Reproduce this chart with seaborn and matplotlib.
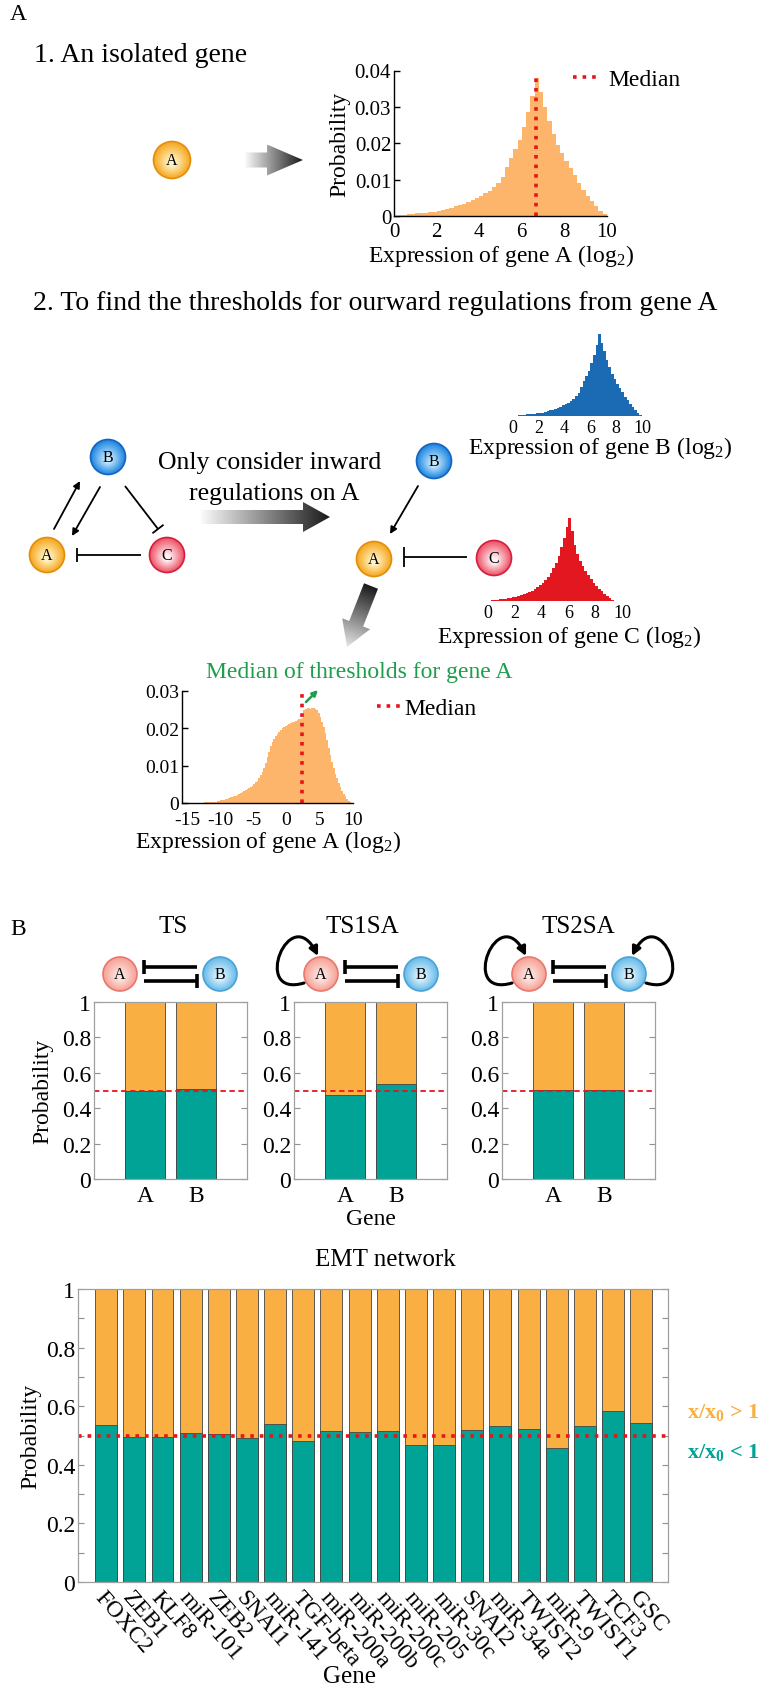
import numpy as np
import pandas as pd
import matplotlib
matplotlib.use("Agg")
import matplotlib.pyplot as plt
import seaborn as sns
from matplotlib.patches import Circle, Polygon, FancyArrowPatch
from matplotlib.path import Path
from matplotlib.colors import LinearSegmentedColormap, to_rgb

sns.set_theme(style="white")
plt.rcParams["font.family"] = ["Liberation Serif", "DejaVu Serif"]
plt.rcParams["mathtext.fontset"] = "custom"
plt.rcParams["mathtext.rm"] = "Liberation Serif"
plt.rcParams["mathtext.it"] = "Liberation Serif:italic"
plt.rcParams["mathtext.bf"] = "Liberation Serif:bold"
plt.rcParams["axes.unicode_minus"] = False
for k in ["text.color", "axes.labelcolor", "xtick.color", "ytick.color"]:
    plt.rcParams[k] = "black"

W, H = 762, 1690

# ---------------- data ----------------
# isolated-gene expression histograms, 0.2 wide bins on 0..10
iso_edges = np.linspace(0, 10, 51)
iso_centers = (iso_edges[:-1] + iso_edges[1:]) / 2
prob_gene_a = [0.0001, 0.0002, 0.0003, 0.0005, 0.0006, 0.0007, 0.0008, 0.0009, 0.0011, 0.0012,
               0.0014, 0.0016, 0.0019, 0.0023, 0.0027, 0.0030, 0.0034, 0.0039, 0.0044, 0.0050,
               0.0056, 0.0062, 0.0070, 0.0080, 0.0092, 0.0106, 0.0135, 0.0160, 0.0185, 0.0210,
               0.0245, 0.0285, 0.0330, 0.0380, 0.0340, 0.0300, 0.0260, 0.0225, 0.0195, 0.0172,
               0.0150, 0.0132, 0.0112, 0.0090, 0.0072, 0.0055, 0.0040, 0.0027, 0.0015, 0.0005]
# gene B looks the same as the isolated gene A
prob_gene_b = [0.0001, 0.0002, 0.0003, 0.0005, 0.0006, 0.0007, 0.0008, 0.0009, 0.0011, 0.0012,
               0.0014, 0.0016, 0.0019, 0.0023, 0.0027, 0.0030, 0.0034, 0.0039, 0.0044, 0.0050,
               0.0056, 0.0062, 0.0070, 0.0080, 0.0092, 0.0106, 0.0135, 0.0160, 0.0185, 0.0210,
               0.0245, 0.0285, 0.0330, 0.0380, 0.0340, 0.0300, 0.0260, 0.0225, 0.0195, 0.0172,
               0.0150, 0.0132, 0.0112, 0.0090, 0.0072, 0.0055, 0.0040, 0.0027, 0.0015, 0.0005]
prob_gene_c = [0.0002, 0.0003, 0.0004, 0.0005, 0.0007, 0.0008, 0.0010, 0.0012, 0.0014, 0.0016,
               0.0019, 0.0022, 0.0026, 0.0030, 0.0035, 0.0040, 0.0046, 0.0053, 0.0061, 0.0070,
               0.0082, 0.0093, 0.0108, 0.0125, 0.0145, 0.0170, 0.0200, 0.0240, 0.0280, 0.0330,
               0.0370, 0.0310, 0.0250, 0.0210, 0.0180, 0.0155, 0.0135, 0.0115, 0.0098, 0.0082,
               0.0068, 0.0055, 0.0043, 0.0032, 0.0022, 0.0013, 0.0006, 0.0002, 0.0000, 0.0000]
median_gene_a = 6.65

# thresholds of gene A, 0.25 wide bins on -15..10
thr_edges = np.linspace(-15, 10, 101)
thr_centers = (thr_edges[:-1] + thr_edges[1:]) / 2
prob_threshold_a = [0.0001, 0.0001, 0.0001, 0.0001, 0.0001, 0.0001, 0.0001, 0.0001,
                    0.0001, 0.0001, 0.0002, 0.0002, 0.0002, 0.0002, 0.0003, 0.0003,
                    0.0004, 0.0004, 0.0005, 0.0006, 0.0007, 0.0008, 0.0009, 0.0010,
                    0.0012, 0.0013, 0.0015, 0.0016, 0.0018, 0.0020, 0.0022, 0.0024,
                    0.0027, 0.0029, 0.0031, 0.0034, 0.0037, 0.0040, 0.0043, 0.0046,
                    0.0050, 0.0055, 0.0060, 0.0066, 0.0074, 0.0084, 0.0095, 0.0108,
                    0.0122, 0.0137, 0.0152, 0.0163, 0.0172, 0.0180, 0.0186, 0.0191,
                    0.0196, 0.0200, 0.0204, 0.0207, 0.0210, 0.0212, 0.0214, 0.0216,
                    0.0218, 0.0220, 0.0222, 0.0224, 0.0226, 0.0228, 0.0250, 0.0252,
                    0.0254, 0.0255, 0.0253, 0.0255, 0.0254, 0.0252, 0.0248, 0.0240,
                    0.0230, 0.0218, 0.0204, 0.0188, 0.0168, 0.0148, 0.0128, 0.0110,
                    0.0094, 0.0079, 0.0066, 0.0054, 0.0043, 0.0033, 0.0025, 0.0018,
                    0.0011, 0.0006, 0.0002, 0.0000]
median_threshold_a = 2.3

# panel B: probability of x/x0 < 1 (teal) and > 1 (orange)
motif_names = ["TS", "TS1SA", "TS2SA"]
motif_genes = ["A", "B"]
ts_low = [0.496, 0.509]
ts1sa_low = [0.475, 0.538]
ts2sa_low = [0.504, 0.504]

emt_genes = ["FOXC2", "ZEB1", "KLF8", "miR-101", "ZEB2", "SNAI1", "miR-141", "TGF-beta",
             "miR-200a", "miR-200b", "miR-200c", "miR-205", "miR-30c", "SNAI2", "miR-34a",
             "TWIST2", "miR-9", "TWIST1", "TCF3", "GSC"]
emt_low = [0.536, 0.495, 0.495, 0.510, 0.505, 0.490, 0.540, 0.482, 0.514, 0.512,
           0.517, 0.466, 0.467, 0.520, 0.532, 0.523, 0.458, 0.532, 0.585, 0.542]

HIST_ORANGE = "#FDB56C"
BAR_ORANGE = "#F9AF41"
BAR_TEAL = "#00A395"
RED = "#E8141C"
GREEN = "#1E9E4C"

fig = plt.figure(figsize=(W / 100, H / 100), dpi=100)


def px_axes(x0, y0, x1, y1):
    return fig.add_axes([x0 / W, 1 - y1 / H, (x1 - x0) / W, (y1 - y0) / H])


def hist_style(ax, fs, xpad=4):
    for s in ["top", "right"]:
        ax.spines[s].set_visible(False)
    for s in ["left", "bottom"]:
        ax.spines[s].set_color("black")
        ax.spines[s].set_linewidth(1.0)
    ax.tick_params(axis="y", direction="in", length=4, width=1, labelsize=fs, pad=2, left=True)
    ax.tick_params(axis="x", length=0, labelsize=fs, pad=xpad)


def draw_hist(ax, centers, probs, width, lo, hi, color):
    df = pd.DataFrame({"expr": centers, "prob": probs})
    sns.histplot(data=df, x="expr", weights="prob", binwidth=width, binrange=(lo, hi),
                 color=color, alpha=1, linewidth=0, ax=ax)


# ---- top histogram: isolated gene A ----
ax = px_axes(394, 71.5, 607, 217)
draw_hist(ax, iso_centers, prob_gene_a, 0.2, 0, 10, HIST_ORANGE)
ax.plot([median_gene_a, median_gene_a], [0, 0.0385], ls=":", lw=2.6, color=RED, label="Median")
ax.set_xlim(0, 10)
ax.set_ylim(0, 0.04)
ax.set_xticks(range(0, 11, 2))
ax.set_yticks([0, 0.01, 0.02, 0.03, 0.04], ["0", "0.01", "0.02", "0.03", "0.04"])
ax.set_xlabel(r"Expression of gene A (log$_2$)", fontsize=17, labelpad=1)
ax.set_ylabel("Probability", fontsize=17, labelpad=3)
hist_style(ax, 15)
ax.legend(loc="center left", bbox_to_anchor=(573 / W, 1 - 80 / H), bbox_transform=fig.transFigure,
          frameon=False, fontsize=17, handlelength=1.0, handletextpad=0.5, borderpad=0, borderaxespad=0)

# ---- gene B and gene C histograms ----
for (x0, y0, x1, y1), probs, col in [((513, 335, 642, 417), prob_gene_b, "#1B6BB4"),
                                     ((488, 519, 622, 602), prob_gene_c, "#E3171F")]:
    ax = px_axes(x0, y0, x1, y1)
    draw_hist(ax, iso_centers, probs, 0.2, 0, 10, col)
    ax.set_xlim(0, 10)
    ax.set_ylim(0, max(probs))
    ax.set_xticks(range(0, 11, 2))
    ax.set_yticks([])
    ax.set_xlabel("")
    ax.set_ylabel("")
    for s in ax.spines.values():
        s.set_visible(False)
    ax.tick_params(axis="x", length=0, labelsize=13, pad=2)

# ---- threshold histogram ----
ax = px_axes(182, 692, 353, 804)
draw_hist(ax, thr_centers, prob_threshold_a, 0.25, -15, 10, HIST_ORANGE)
ax.plot([median_threshold_a, median_threshold_a], [0, 0.03], ls=":", lw=2.6, color=RED, label="Median")
ax.set_xlim(-15.75, 10)
ax.set_ylim(0, 0.03)
ax.set_xticks([-15, -10, -5, 0, 5, 10], ["-15", "-10", "-5", "0", "5", "10"])
ax.set_yticks([0, 0.01, 0.02, 0.03], ["0", "0.01", "0.02", "0.03"])
ax.set_xlabel(r"Expression of gene A (log$_2$)", fontsize=17, labelpad=0)
ax.set_ylabel("")
hist_style(ax, 14, xpad=6)
ax.legend(loc="center left", bbox_to_anchor=(377 / W, 1 - 709 / H), bbox_transform=fig.transFigure,
          frameon=False, fontsize=17, handlelength=1.0, handletextpad=0.15, borderpad=0, borderaxespad=0)


def bar_style(ax, fs):
    for s in ax.spines.values():
        s.set_visible(True)
        s.set_color("#A0A0A0")
        s.set_linewidth(0.9)
    ax.set_ylim(0, 1)
    ax.set_yticks(np.arange(0, 1.01, 0.2), ["0", "0.2", "0.4", "0.6", "0.8", "1"])
    ax.tick_params(axis="y", which="both", direction="in", length=4, width=0.8, color="#909090",
                   left=True, right=True, labelsize=fs, pad=2)
    ax.tick_params(axis="x", length=0, labelsize=fs)
    ax.set_xlabel("")
    ax.set_ylabel("")


# ---- panel B: motifs ----
motif_low = [ts_low, ts1sa_low, ts2sa_low]
motif_x = [(94, 247), (294, 447), (502, 655)]
for i, ((x0, x1), name, low) in enumerate(zip(motif_x, motif_names, motif_low)):
    ax = px_axes(x0, 1003, x1, 1180)
    high = [1 - v for v in low]
    sns.barplot(x=motif_genes, y=list(np.add(low, high)), color=BAR_ORANGE, saturation=1, width=0.8,
                errorbar=None, edgecolor="#444444", linewidth=0.6, ax=ax)
    sns.barplot(x=motif_genes, y=low, color=BAR_TEAL, saturation=1, width=0.8,
                errorbar=None, edgecolor="#444444", linewidth=0.6, ax=ax)
    ax.axhline(0.5, color=RED, ls="--", lw=1.3, dashes=(3, 2))
    bar_style(ax, 17)
    ax.set_xlim(-1, 2)
    ax.tick_params(axis="x", pad=4)
    if i == 0:
        ax.set_ylabel("Probability", fontsize=17, labelpad=6)
    if i == 1:
        ax.set_xlabel("Gene", fontsize=17, labelpad=2)

# ---- panel B: EMT network ----
ax = px_axes(78, 1290, 668, 1583)
emt_high = [1 - v for v in emt_low]
sns.barplot(x=emt_genes, y=list(np.add(emt_low, emt_high)), color=BAR_ORANGE, saturation=1, width=0.78,
            errorbar=None, edgecolor="#444444", linewidth=0.6, ax=ax)
sns.barplot(x=emt_genes, y=emt_low, color=BAR_TEAL, saturation=1, width=0.78,
            errorbar=None, edgecolor="#444444", linewidth=0.6, ax=ax)
ax.axhline(0.5, color=RED, ls=":", lw=2.6)
bar_style(ax, 17)
ax.set_yticks(np.arange(0.1, 1.0, 0.2), minor=True)
ax.tick_params(axis="y", which="minor", direction="in", length=4, width=0.8, color="#909090",
               left=True, right=True)
ax.set_xlim(-1, 19.95)
ax.set_xticks(range(len(emt_genes)))
ax.set_xticklabels(emt_genes, rotation=-49, ha="left", rotation_mode="anchor", fontsize=17)
ax.tick_params(axis="x", pad=3)
ax.set_ylabel("Probability", fontsize=17, labelpad=3)

# ---------------- overlay: diagram, titles, arrows ----------------
ov = fig.add_axes([0, 0, 1, 1])
ov.set_zorder(10)
ov.axis("off")


def node(x, y, r, label, c_center, c_rim, c_edge, fs=11.5):
    n = 14
    for k in range(n):
        f = k / (n - 1)
        col = np.array(to_rgb(c_rim)) * (1 - f) + np.array(to_rgb(c_center)) * f
        ov.add_patch(Circle((x, y + 0.15 * r * f), r * (1 - 0.8 * f), color=col, lw=0))
    ov.add_patch(Circle((x, y), r, fill=False, ec=c_edge, lw=1.2))
    ov.text(x, y, label, ha="center", va="center", fontsize=fs)


def grad_arrow(p0, p1, shaft, head, head_len, c0, c1):
    p0 = np.array(p0, float)
    p1 = np.array(p1, float)
    d = p1 - p0
    L = np.hypot(*d)
    u = d / L
    n = np.array([-u[1], u[0]])
    hb = p1 - u * head_len
    pts = [p0 + n * shaft / 2, hb + n * shaft / 2, hb + n * head / 2, p1,
           hb - n * head / 2, hb - n * shaft / 2, p0 - n * shaft / 2]
    poly = Polygon(pts, closed=True, fc="none", ec="none")
    ov.add_patch(poly)
    xs = [p[0] for p in pts]
    ys = [p[1] for p in pts]
    gx, gy = np.meshgrid(np.linspace(min(xs), max(xs), 200), np.linspace(min(ys), max(ys), 200))
    t = (((gx - p0[0]) * u[0] + (gy - p0[1]) * u[1]) / L).clip(0, 1)
    cmap = LinearSegmentedColormap.from_list("g", [c0, c1])
    im = ov.imshow(t, cmap=cmap, extent=(min(xs), max(xs), min(ys), max(ys)), origin="lower",
                   aspect="auto", interpolation="bilinear", vmin=0, vmax=1)
    im.set_clip_path(poly)


def activate(p0, p1, lw=1.3, ms=10):
    ov.add_patch(FancyArrowPatch(p0, p1, arrowstyle="-|>", mutation_scale=ms, lw=lw, color="black",
                                 shrinkA=0, shrinkB=0))


def inhibit(p0, p1, half=7, lw=1.3):
    p0 = np.array(p0, float)
    p1 = np.array(p1, float)
    ov.plot([p0[0], p1[0]], [p0[1], p1[1]], color="black", lw=lw, solid_capstyle="butt")
    d = p1 - p0
    u = d / np.hypot(*d)
    n = np.array([-u[1], u[0]])
    a, b = p1 + n * half, p1 - n * half
    ov.plot([a[0], b[0]], [a[1], b[1]], color="black", lw=lw, solid_capstyle="butt")


def self_loop(verts, lw=2.2):
    path = Path(verts, [Path.MOVETO, Path.CURVE4, Path.CURVE4, Path.CURVE4])
    ov.add_patch(FancyArrowPatch(path=path, arrowstyle="-|>", mutation_scale=13, lw=lw, color="black"))


ORANGE_NODE = ("#FFF3C4", "#F6A821", "#E38E0B")
BLUE_NODE = ("#C4E8FF", "#1E86E0", "#1565C0")
RED_NODE = ("#FFF0F2", "#EE5468", "#D41F3F")
PINK_NODE = ("#FDE6E1", "#F6A297", "#E8786D")
LBLUE_NODE = ("#DDF3FF", "#69BBE8", "#4AA3D8")

# panel labels and headings
ov.text(10, 15, "A", fontsize=17, va="center", ha="left")
ov.text(34, 55, "1. An isolated gene", fontsize=20, va="center", ha="left")
ov.text(33, 303, "2. To find the thresholds for ourward regulations from gene A", fontsize=20,
        va="center", ha="left")
ov.text(10, 930, "B", fontsize=17, va="center", ha="left")

# section 1
node(172, 161, 18.5, "A", *ORANGE_NODE)
grad_arrow((245, 161), (303, 161), 15, 31, 36, "#FAFAFA", "#1A1A1A")

# section 2, full network
node(108, 458, 17.5, "B", *BLUE_NODE)
node(47, 556, 17.5, "A", *ORANGE_NODE)
node(167, 556, 17.5, "C", *RED_NODE)
activate((54, 530), (80, 482))
activate((100, 488), (72, 537))
inhibit((125, 487), (158, 530))
inhibit((141, 556), (77, 556))
ov.text(270, 463, "Only consider inward", fontsize=18.5, ha="center", va="center")
ov.text(274, 494, "regulations on A", fontsize=18.5, ha="center", va="center")
grad_arrow((201, 518), (330, 518), 14, 30, 27, "#FAFAFA", "#1A1A1A")

# section 2, inward regulations only
node(434, 462, 17.5, "B", *BLUE_NODE)
node(374, 560, 17.5, "A", *ORANGE_NODE)
node(494, 559, 17.5, "C", *RED_NODE)
activate((418, 487), (390, 535))
inhibit((467, 558), (404, 558), half=10)
ov.text(600, 448, r"Expression of gene B (log$_2$)", fontsize=17, ha="center", va="center")
ov.text(569, 637, r"Expression of gene C (log$_2$)", fontsize=17, ha="center", va="center")
grad_arrow((371, 587), (347, 648), 15, 30, 25, "#1A1A1A", "#E6E6E6")

ov.text(359, 673, "Median of thresholds for gene A", fontsize=17, color=GREEN, ha="center", va="center")
ov.add_patch(FancyArrowPatch((306, 703), (318, 691), arrowstyle="-|>", mutation_scale=8, lw=1.8,
                             color=GREEN, shrinkA=0, shrinkB=0))

# panel B motif titles and icons
for cx, name in zip([173, 362, 578], motif_names):
    ov.text(cx, 927, name, fontsize=18, ha="center", va="center")
for ax_c, bx_c in [(120, 220), (321, 421), (529, 629)]:
    node(ax_c, 975, 17, "A", *PINK_NODE)
    node(bx_c, 975, 17, "B", *LBLUE_NODE)
    inhibit((bx_c - 23, 968), (ax_c + 24, 968), half=7, lw=2.6)
    inhibit((ax_c + 24, 982), (bx_c - 23, 982), half=7, lw=2.6)
for cx in [321, 529]:
    self_loop([(cx - 17, 984), (cx - 71, 1000), (cx - 31, 900), (cx - 3, 957)])
self_loop([(646, 984), (700, 1000), (660, 900), (632, 957)])

ov.text(385, 1260, "EMT network", fontsize=18, ha="center", va="center")
ov.text(350, 1677, "Gene", fontsize=18, ha="center", va="center")
ov.text(687, 1413, r"x/x$_\mathbf{0}$ > 1", fontsize=16, fontweight="bold", color=BAR_ORANGE,
        ha="left", va="center")
ov.text(687, 1453, r"x/x$_\mathbf{0}$ < 1", fontsize=16, fontweight="bold", color=BAR_TEAL,
        ha="left", va="center")

ov.set_xlim(0, W)
ov.set_ylim(H, 0)

fig.savefig("out.png", dpi=100)
